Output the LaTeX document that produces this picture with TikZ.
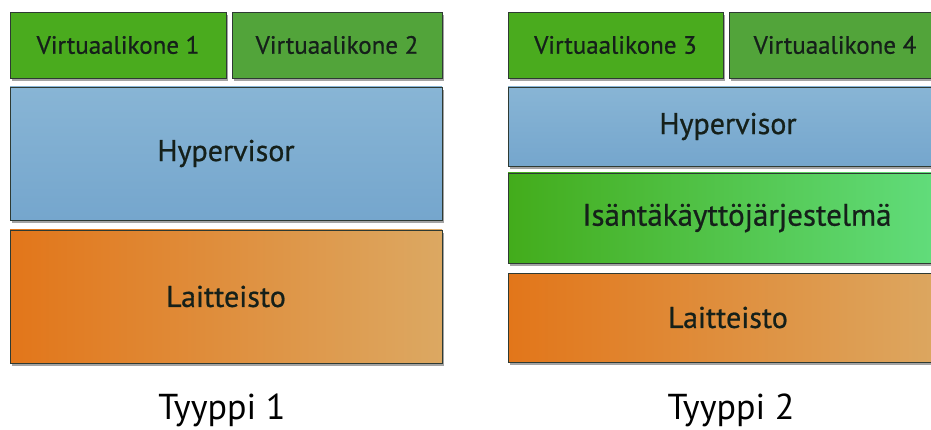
\documentclass[tikz,border=0pt]{standalone}
\usepackage{fontspec}
\setmainfont{PT Sans}
\newfontfamily\labelfont[FakeBold=0.7]{PT Sans}
\usetikzlibrary{shadows}
\definecolor{vmgreen}{HTML}{4AAB1E}
\definecolor{vmgreenb}{HTML}{52A43A}
\definecolor{hvblue}{HTML}{88B5D5}
\definecolor{hvblueb}{HTML}{75A6CD}
\definecolor{hwleft}{HTML}{E2761A}
\definecolor{hwright}{HTML}{DCA862}
\definecolor{osleft}{HTML}{43AC1B}
\definecolor{osright}{HTML}{62DE7E}
\definecolor{edge}{HTML}{2E3A33}
\definecolor{ink}{HTML}{15201A}
\tikzset{
  x=1pt, y=-1pt,
  layer/.style={draw=edge, line width=0.9pt, inner sep=0pt, text=ink,
    drop shadow={shadow xshift=2pt, shadow yshift=-3pt, fill=black!45, opacity=0.8}},
  vmbox/.style={layer, fill=vmgreen, font=\labelfont\fontsize{25}{27}\selectfont},
  vmboxb/.style={vmbox, fill=vmgreenb},
  hvbox/.style={layer, top color=hvblue, bottom color=hvblueb, font=\labelfont\fontsize{30}{33}\selectfont},
  hwbox/.style={layer, left color=hwleft, right color=hwright, middle color=hwleft!50!hwright, font=\labelfont\fontsize{30}{33}\selectfont},
  osbox/.style={layer, left color=osleft, right color=osright, font=\labelfont\fontsize{31}{34}\selectfont},
  caption/.style={font=\fontsize{36}{40}\selectfont, text=black}
}
\begin{document}
\begin{tikzpicture}
\useasboundingbox (0,0) rectangle (931,430);
\clip (0,0) rectangle (931,430);
% Type 1 stack
\node[vmbox, minimum width=216pt, minimum height=66pt] (vm1) at (118,45) {Virtuaalikone 1};
\node[vmboxb, minimum width=210pt, minimum height=66pt] (vm2) at (337,45) {Virtuaalikone 2};
\node[hvbox, minimum width=432pt, minimum height=133pt] (hv1) at (226,153.5) {Hypervisor};
\node[hwbox, minimum width=432pt, minimum height=133pt] (hw1) at (226,296.5) {Laitteisto};
\node[caption] (t1) at (222,410) {Tyyppi 1};
% Type 2 stack (runs past the right edge of the page)
\node[vmbox, minimum width=215pt, minimum height=66pt] (vm3) at (615.5,45) {Virtuaalikone 3};
\node[vmboxb, minimum width=212pt, minimum height=66pt] (vm4) at (835,45) {Virtuaalikone 4};
\node[hvbox, minimum width=440pt, minimum height=79pt] (hv2) at (728,126.5) {Hypervisor};
\node[osbox, minimum width=440pt, minimum height=90pt] (os2) at (728,218) {\hspace*{18pt}Isäntäkäyttöjärjestelmä};
\node[hwbox, minimum width=440pt, minimum height=89pt] (hw2) at (728,317.5) {Laitteisto};
\node[caption] (t2) at (731,410) {Tyyppi 2};
\end{tikzpicture}
\end{document}
